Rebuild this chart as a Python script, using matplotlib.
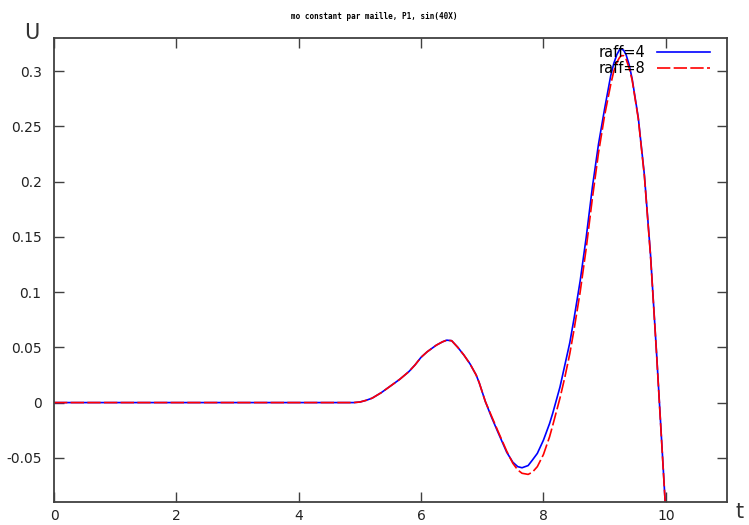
import matplotlib.pyplot as plt
import numpy as np

# Values
t = [0, 4.9, 5.0, 5.1, 5.2, 5.35, 5.5, 5.65, 5.8, 5.9, 6.0, 6.1, 6.25, 6.35,
     6.42, 6.5, 6.6, 6.7, 6.8, 6.9, 6.95, 7.05, 7.15, 7.25, 7.4, 7.5, 7.58,
     7.65, 7.75, 7.82, 7.9, 8.0, 8.1, 8.15, 8.27, 8.35, 8.43, 8.5, 8.6,
     8.7, 8.8, 8.9, 9.0, 9.1, 9.15, 9.2, 9.24, 9.27, 9.31, 9.35, 9.4, 9.45,
     9.55, 9.65, 9.75, 9.85, 9.9, 10.0, 10.05]
u_raff4 = [0, 0, 0.0005, 0.002, 0.004, 0.009, 0.015, 0.021, 0.028, 0.034,
           0.041, 0.046, 0.052, 0.055, 0.0565, 0.056, 0.050, 0.043, 0.035,
           0.025, 0.018, 0.001, -0.013, -0.026, -0.045, -0.054, -0.058,
           -0.059, -0.057, -0.052, -0.046, -0.034, -0.019, -0.010, 0.014,
           0.034, 0.054, 0.076, 0.110, 0.150, 0.195, 0.234, 0.266, 0.296,
           0.307, 0.315, 0.319, 0.320, 0.319, 0.315, 0.306, 0.293, 0.258,
           0.206, 0.134, 0.044, -0.004, -0.10, -0.15]
u_raff8 = [0, 0, 0.0005, 0.002, 0.004, 0.009, 0.015, 0.021, 0.028, 0.034,
           0.041, 0.046, 0.052, 0.055, 0.0565, 0.056, 0.050, 0.043, 0.035,
           0.025, 0.018, 0.001, -0.012, -0.025, -0.044, -0.055, -0.061,
           -0.064, -0.065, -0.063, -0.058, -0.047, -0.031, -0.021, 0.004,
           0.023, 0.044, 0.066, 0.100, 0.140, 0.185, 0.226, 0.260, 0.288,
           0.300, 0.308, 0.312, 0.314, 0.314, 0.311, 0.303, 0.292, 0.257,
           0.205, 0.133, 0.043, -0.005, -0.10, -0.15]
labels = ['raff=4', 'raff=8']
title = 'mo constant par maille, P1, sin(40X)'

x_ticks = [0, 2, 4, 6, 8, 10]
y_ticks = [-0.05, 0, 0.05, 0.1, 0.15, 0.2, 0.25, 0.3]

fig = plt.figure(figsize=(7.49, 5.25), dpi=100)
ax = fig.add_axes([0.0721, 0.0438, 0.8985, 0.8838])

ax.plot(t, u_raff4, color='#0000ff', lw=1.2, label=labels[0])
ax.plot(t, u_raff8, color='#ff0000', lw=1.2, dashes=(8, 2), label=labels[1])

ax.set_xlim(0, 11)
ax.set_ylim(-0.09, 0.33)
ax.set_xticks(x_ticks)
ax.set_xticklabels([str(v) for v in x_ticks])
ax.set_yticks(y_ticks)
ax.set_yticklabels(['-0.05', '0', '0.05', '0.1', '0.15', '0.2', '0.25', '0.3'])
ax.tick_params(direction='in', length=7, width=1, top=True, right=True,
               labelsize=10, colors='#404040', labelcolor='#222222')
ax.tick_params(axis='x', pad=5)
ax.tick_params(axis='y', pad=9)
for s in ax.spines.values():
    s.set_color('#404040')
    s.set_linewidth(1.3)

# gnuplot-like axis names in the corners
fig.text(0.042, 0.937, 'U', fontsize=15, color='#333333', ha='center', va='center')
fig.text(0.988, 0.025, 't', fontsize=15, color='#333333', ha='center', va='center')
fig.text(0.5, 0.968, title, fontsize=5.5, family='monospace', weight='bold',
         ha='center', va='center')

ax.legend(loc='upper right', bbox_to_anchor=(0.985, 1.0), frameon=False,
          markerfirst=False, fontsize=10.5, handlelength=3.6, labelspacing=0.05,
          borderaxespad=0.1, handletextpad=0.8)

fig.savefig('out.png', dpi=100)
